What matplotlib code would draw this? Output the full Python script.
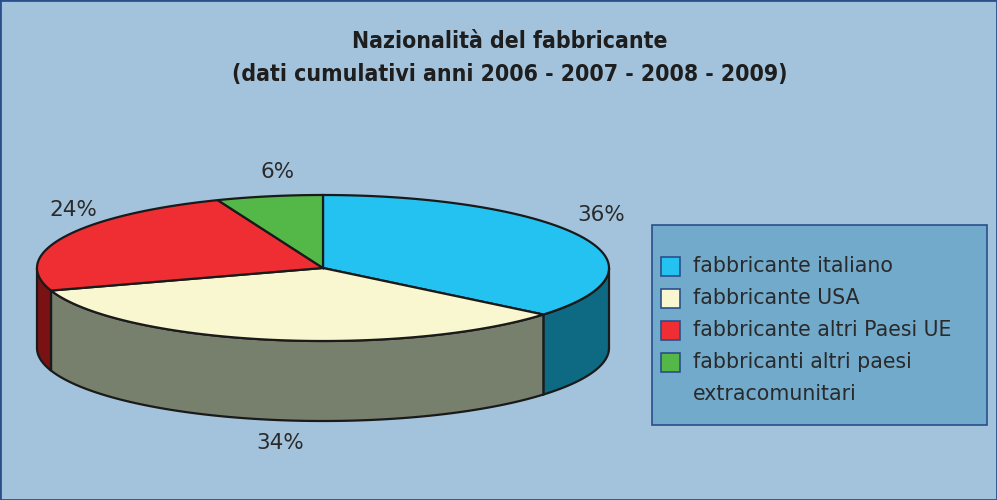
import numpy as np
import matplotlib.pyplot as plt
from matplotlib.patches import Polygon, Rectangle

# data
labels = ['fabbricante italiano', 'fabbricante USA',
          'fabbricante altri Paesi UE', 'fabbricanti altri paesi\nextracomunitari']
values = [36, 34, 24, 6]
top_colors = ['#23c2f1', '#f8f7cf', '#ee2e32', '#54b848']
side_colors = ['#0e6a82', '#77806c', '#7a1214', '#2f6e28']
title = 'Nazionalità del fabbricante\n(dati cumulativi anni 2006 - 2007 - 2008 - 2009)'

bg = '#a3c3dc'
fig = plt.figure(figsize=(9.97, 5.0), dpi=100, facecolor=bg)
ax = fig.add_axes([0, 0, 1, 1])
ax.set_xlim(0, 997)
ax.set_ylim(500, 0)
ax.axis('off')

# pie geometry (pixels)
cx, cy = 323, 268
a, b = 286, 73
depth = 80

def pt(theta, dz=0):
    return cx + a * np.cos(theta), cy - b * np.sin(theta) + dz

fracs = np.array(values) / sum(values)
bounds = np.pi / 2 - 2 * np.pi * np.concatenate([[0], np.cumsum(fracs)])

# side faces (front half only)
for i in range(len(values)):
    lo, hi = bounds[i + 1], bounds[i]
    for shift in (0, 2 * np.pi, -2 * np.pi):
        l2, h2 = max(lo + shift, -np.pi), min(hi + shift, 0)
        if h2 > l2:
            th = np.linspace(l2, h2, 100)
            x, y = pt(th)
            top = np.column_stack([x, y])
            bot = np.column_stack([x, y + depth])[::-1]
            ax.add_patch(Polygon(np.vstack([top, bot]), closed=True,
                                 facecolor=side_colors[i], edgecolor='#1a1a1a',
                                 lw=1.6, zorder=2))

# top faces
for i in range(len(values)):
    th = np.linspace(bounds[i], bounds[i + 1], 200)
    x, y = pt(th)
    verts = np.vstack([[cx, cy], np.column_stack([x, y])])
    ax.add_patch(Polygon(verts, closed=True, facecolor=top_colors[i],
                         edgecolor='#1a1a1a', lw=1.6, zorder=3))

# percentage labels
lab_pos = [(601, 215), (280, 443), (73, 210), (278, 172)]
for v, (lx, ly) in zip(values, lab_pos):
    ax.text(lx, ly, '%d%%' % v, ha='center', va='center', fontsize=15.5,
            color='#2a2a2a', family='DejaVu Sans', zorder=5)

# title (condensed bold)
ax.text(510, 58, title, ha='center', va='center', fontsize=16.5,
        fontweight='bold', fontstretch='condensed',
        family='DejaVu Sans', color='#1e1e1e', linespacing=1.5)

# legend box
ax.add_patch(Rectangle((652, 225), 335, 200, facecolor='#72aacc',
                       edgecolor='#2a4f8a', lw=1.2, zorder=4))
ly = [266, 298, 330, 362]
for i, lab in enumerate(labels):
    ax.add_patch(Rectangle((661, ly[i] - 9), 19, 19, facecolor=top_colors[i],
                           edgecolor='#2a4f8a', lw=1.2, zorder=5))
    ax.text(693, ly[i] - 10, lab, ha='left', va='top',
            fontsize=14.8, color='#2a2a2a', family='DejaVu Sans',
            linespacing=1.75, zorder=5)

# figure border
fig.patches.append(Rectangle((0, 0), 1, 1, transform=fig.transFigure,
                             fill=False, edgecolor='#2a4f8a', lw=2))

fig.savefig('out.png', dpi=100, facecolor=bg)
